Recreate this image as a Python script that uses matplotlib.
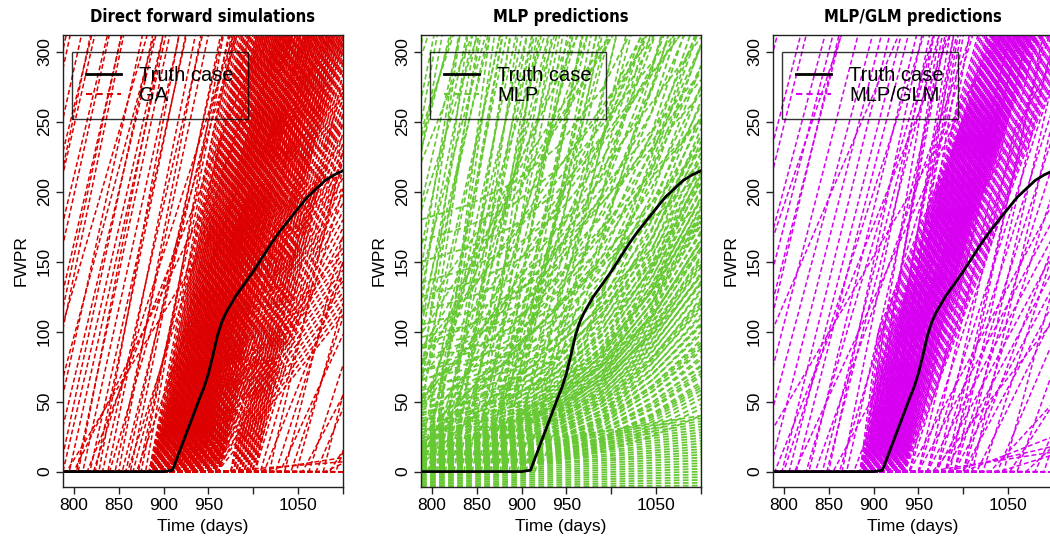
import matplotlib
matplotlib.use("Agg")
import matplotlib.pyplot as plt
from matplotlib.lines import Line2D

plt.rcParams['font.family'] = ['Liberation Sans', 'DejaVu Sans']

# truth case
truth_days = [788, 900, 910, 920, 930, 940, 945, 950, 955, 960, 965, 970, 980, 990,
              1000, 1010, 1020, 1030, 1040, 1050, 1060, 1070, 1080, 1090, 1100]
truth_fwpr = [0, 0, 1, 18, 35, 52, 60, 70, 83, 97, 107, 114, 125, 134,
              143, 153, 163, 172, 180, 188, 196, 202, 208, 212, 215]

# ---- GA: ramp curves (onset day, FWPR rise per day), zero before onset
p1_sparse = [(684, 2.9), (701, 2.9), (712, 2.8), (732, 2.9), (749, 3.0), (769, 2.9),
             (784, 3.0), (795, 2.9), (818, 2.9), (832, 2.8), (846, 3.0), (760, 2.4),
             (740, 2.2), (700, 2.6), (660, 3.0), (805, 3.3), (828, 3.5), (850, 3.4),
             (860, 2.0), (880, 3.6), (792, 1.05), (800, 1.3), (815, 1.6), (822, 2.0),
             (840, 2.2), (854, 2.6), (866, 2.4), (870, 1.8), (875, 3.2), (722, 2.7),
             (810, 2.9), (858, 2.9), (670, 2.8), (692, 3.0), (718, 3.1), (742, 2.8),
             (755, 3.1), (776, 2.7), (788, 2.8), (803, 3.0), (824, 3.1), (838, 3.2),
             (863, 3.1), (872, 2.9)]
p1_band_onsets = [884, 886, 888, 890, 892, 894, 896, 898, 900, 902, 904, 906, 908, 910,
                  912, 914, 916, 918, 920, 922, 924, 926, 928, 930, 932, 934, 936, 938,
                  940, 943, 946, 949, 952, 955, 958, 961]
p1_band_rates = [1.8, 2.2, 2.6, 3.0, 3.4]
p1_slow_onsets = [900, 905, 910, 915, 920, 925, 930, 935, 940, 945, 950, 955, 960]
p1_slow_rates = [0.8, 1.2]
p1_late_onsets = [975, 978, 981, 984, 987, 990, 993, 996, 999, 1002]
p1_late_rates = [2.2, 2.9, 3.6]
p1_tail = [(1008, 2.2), (1012, 1.6), (1018, 2.8), (1025, 2.0), (1030, 1.4), (1035, 2.6),
           (1042, 1.9), (1048, 2.3), (1055, 1.2), (1062, 2.0), (1070, 1.5), (1078, 2.5),
           (1085, 1.0), (1092, 1.8), (960, 0.05), (1000, 0.1), (1080, 0.3),
           (1100, 0), (1100, 0), (1100, 0)]

# ---- MLP/GLM
p3_sparse = [(668, 2.5), (694, 2.5), (705, 2.6), (716, 2.4), (739, 2.5), (746, 2.7),
             (758, 2.5), (769, 2.4), (784, 2.5), (798, 2.6), (814, 2.5), (828, 2.6),
             (843, 2.5), (790, 1.6), (800, 2.0), (812, 1.4), (825, 2.2), (835, 1.8),
             (848, 2.5), (855, 1.2), (862, 2.1), (870, 2.8), (878, 1.7), (720, 1.5),
             (760, 1.1), (700, 1.9), (850, 3.0), (865, 3.2), (730, 2.5), (806, 2.5),
             (885, 3.8), (890, 3.6), (895, 4.0), (900, 3.5), (905, 3.9), (910, 3.7),
             (915, 4.2), (920, 3.6), (888, 3.4), (898, 3.3), (908, 3.5), (918, 3.8)]
p3_band_onsets = [885, 887, 889, 891, 893, 895, 897, 899, 901, 903, 905, 907, 909, 911,
                  913, 915, 917, 919, 921, 923, 925, 927, 929, 931, 933, 935]
# (early rate over first 20 days, later rate)
p3_band_shapes = [(5.0, 1.6), (3.6, 1.9), (2.8, 2.3), (2.2, 2.2), (1.7, 1.7)]
p3_knee = 20
p3_mid_onsets = [940, 950, 960, 970, 980, 990, 1000]
p3_mid_rates = [1.2, 2.0, 2.8]
p3_tail = [(966, 0.8), (985, 3.0), (1005, 1.7), (1010, 2.8), (1015, 1.3), (1022, 2.0),
           (1030, 0.7), (1038, 1.5), (1045, 2.4), (1052, 1.0), (1060, 1.8), (1070, 0.6),
           (1080, 1.4), (1090, 2.0), (960, 0.1), (980, 0.15), (1000, 0.25), (1040, 0.2),
           (1100, 0), (1100, 0), (1100, 0)]

# ---- MLP: steep straight lines, gentle lines, convex curves (start, end), near-flat lines
p2_ramps = [(712, 4.0), (717, 3.5), (730, 2.4), (740, 1.4), (748, 3.2), (755, 2.9),
            (760, 1.6), (762, 4.5), (768, 3.6), (770, 2.0), (775, 4.8), (780, 1.2),
            (783, 3.1), (790, 3.0), (795, 2.2), (797, 3.8), (800, 1.8), (802, 5.0),
            (806, 3.3), (810, 2.6), (813, 4.2), (818, 3.0), (820, 2.2), (825, 4.4),
            (830, 1.5), (833, 3.6), (839, 3.4), (842, 2.7), (849, 4.6), (850, 1.7),
            (855, 3.1), (860, 2.3), (864, 3.0), (866, 3.9), (870, 2.6), (872, 2.8),
            (873, 2.5), (878, 3.5), (880, 2.0), (886, 2.6), (890, 3.2), (895, 2.1),
            (900, 1.9), (905, 2.8), (910, 1.6), (690, 3.4), (700, 2.6), (680, 2.2),
            (660, 1.9), (650, 1.6), (640, 2.0), (655, 2.4), (670, 2.8), (685, 3.0),
            (695, 2.0), (705, 3.2), (720, 2.8), (725, 3.6), (735, 3.0), (745, 2.6),
            (752, 4.0), (758, 3.4), (765, 2.8), (772, 3.0), (778, 4.2), (786, 2.6),
            (792, 3.6), (799, 4.4), (804, 2.9), (808, 3.9), (815, 3.2), (822, 3.7),
            (828, 2.8), (836, 4.0), (845, 3.2), (852, 3.8), (858, 2.7), (862, 3.5),
            (868, 3.1), (876, 2.9), (883, 3.3), (892, 2.4), (898, 2.9), (903, 2.3),
            (915, 2.2), (920, 1.8)]
p2_gentle = [(780, 0.6), (770, 0.7), (760, 0.65), (750, 0.8), (740, 0.7), (730, 0.9),
             (720, 0.75), (710, 0.85), (700, 0.9), (690, 1.0), (680, 0.8), (670, 0.95),
             (775, 0.55), (765, 0.75), (745, 0.6), (735, 0.85), (715, 0.7), (705, 1.05)]
p2_days = [788, 840, 890, 940, 990, 1045, 1100]
p2_shape = [0, 0.04, 0.10, 0.20, 0.36, 0.63, 1.0]
p2_curves = [(0, 45), (1, 52), (2, 58), (2, 64), (3, 70), (3, 76), (4, 82), (4, 88),
             (5, 94), (5, 100), (6, 106), (6, 112), (7, 118), (7, 124), (8, 130), (8, 136),
             (9, 142), (10, 148), (10, 154), (11, 160), (12, 166), (12, 172), (13, 178),
             (14, 184), (15, 190), (16, 196), (17, 202), (18, 208), (20, 214), (22, 220),
             (24, 228), (26, 236), (28, 245), (30, 255), (33, 265), (36, 275), (40, 290),
             (44, 305), (48, 320), (52, 335), (58, 350), (65, 370), (72, 390), (80, 410),
             (90, 430), (3, 60), (5, 72), (7, 90), (9, 105), (11, 120), (13, 135),
             (15, 150), (17, 165), (19, 180), (21, 195), (24, 140), (28, 160), (32, 185),
             (36, 210), (42, 240),
             (0, 40), (1, 48), (2, 55), (3, 62), (4, 68), (5, 75), (6, 80), (7, 86),
             (8, 92), (9, 98), (10, 104), (11, 110), (12, 116), (13, 122), (14, 128),
             (15, 134), (16, 140), (17, 146), (18, 152), (19, 158), (20, 164), (22, 170),
             (24, 176), (26, 182), (28, 188), (30, 194), (34, 200), (38, 206), (42, 212),
             (46, 218), (50, 224), (55, 232), (60, 240), (66, 250), (72, 262), (80, 275),
             (88, 290), (96, 305), (105, 320), (115, 340), (125, 360), (135, 380),
             (150, 400), (165, 420), (180, 440)]
p2_flat = [(-12, -12), (-11, -10), (-10, -8), (-9, -6), (-8, -4), (-7, -2), (-6, 0), (-5, 2),
           (-4, 4), (-3, 6), (-2, 8), (-1, 10), (0, 12), (0, 14), (1, 16), (1, 18), (2, 20),
           (2, 22), (3, 24), (3, 26), (4, 28), (4, 30), (5, 32), (5, 34), (6, 36), (7, 38),
           (8, 40)]

titles = ['Direct forward simulations', 'MLP predictions', 'MLP/GLM predictions']
labels = ['GA', 'MLP', 'MLP/GLM']
colors = ['#dd0000', '#66c833', '#d800f0']
xticks = [800, 850, 900, 950, 1000, 1050, 1100]
xticklabels = ['800', '850', '900', '950', '', '1050', '']
yticks = [0, 50, 100, 150, 200, 250, 300]

DASH = (0, (3.2, 1.8))
X0, X1 = 788, 1100


def draw_ramps(ax, ramps, color, lw=1.1, flat=True):
    for onset, rate in ramps:
        if onset < X0 or not flat:
            xs, ys = [onset, X1], [0, rate * (X1 - onset)]
        else:
            xs, ys = [X0, onset, X1], [0, 0, rate * (X1 - onset)]
        ax.plot(xs, ys, color=color, lw=lw, ls=DASH)


def pairs(onsets, rates):
    return [(o, r) for o in onsets for r in rates]


fig = plt.figure(figsize=(10.5, 5.48), dpi=100)
lefts = [63, 421, 773]
axes = [fig.add_axes([l / 1050, 1 - 487 / 548, 280 / 1050, 452 / 548]) for l in lefts]

# GA panel
draw_ramps(axes[0], p1_sparse, colors[0])
draw_ramps(axes[0], pairs(p1_band_onsets, p1_band_rates), colors[0])
draw_ramps(axes[0], pairs(p1_slow_onsets, p1_slow_rates), colors[0])
draw_ramps(axes[0], pairs(p1_late_onsets, p1_late_rates), colors[0])
draw_ramps(axes[0], p1_tail, colors[0])

# MLP panel
for a, b in p2_flat:
    axes[1].plot([X0, X1], [a, b], color=colors[1], lw=1.3, ls=DASH)
for a, b in p2_curves:
    axes[1].plot(p2_days, [a + (b - a) * s for s in p2_shape], color=colors[1], lw=1.3, ls=DASH)
draw_ramps(axes[1], p2_gentle, colors[1], lw=1.2)
draw_ramps(axes[1], p2_ramps, colors[1], lw=1.2, flat=False)

# MLP/GLM panel
draw_ramps(axes[2], p3_sparse, colors[2])
for onset in p3_band_onsets:
    for r1, r2 in p3_band_shapes:
        knee_y = r1 * p3_knee
        xs = [X0, onset, onset + p3_knee, X1]
        ys = [0, 0, knee_y, knee_y + r2 * (X1 - onset - p3_knee)]
        axes[2].plot(xs, ys, color=colors[2], lw=1.1, ls=DASH)
draw_ramps(axes[2], pairs(p3_mid_onsets, p3_mid_rates), colors[2])
draw_ramps(axes[2], p3_tail, colors[2])

for i, ax in enumerate(axes):
    ax.plot(truth_days, truth_fwpr, color='black', lw=2)
    ax.set_xlim(X0, X1)
    ax.set_ylim(-11, 312)
    ax.set_xticks(xticks)
    ax.set_xticklabels(xticklabels, fontsize=12.5)
    ax.set_yticks(yticks)
    ax.set_yticklabels([str(v) for v in yticks], fontsize=12.5, rotation=90, va='center')
    ax.tick_params(length=5, width=1, pad=3, colors='#222222', labelcolor='black')
    for s in ax.spines.values():
        s.set_linewidth(1)
        s.set_color('#222222')
    ax.set_xlabel('Time (days)', fontsize=12.5, labelpad=4)
    ax.set_ylabel('FWPR', fontsize=12.5, labelpad=6)
    ax.set_title(titles[i], fontsize=12, fontweight='bold', fontstretch='condensed',
                 family=['DejaVu Sans'], pad=9)
    handles = [Line2D([], [], color='black', lw=2),
               Line2D([], [], color=colors[i], lw=1.5, ls=(0, (3, 2)))]
    leg = ax.legend(handles, ['Truth case', labels[i]], loc='upper left',
                    bbox_to_anchor=(0.032, 0.962), borderaxespad=0, fancybox=False,
                    fontsize=14.5, handlelength=1.75, handletextpad=0.9,
                    borderpad=0.7, labelspacing=0.05)
    leg.get_frame().set_facecolor('none')
    leg.get_frame().set_edgecolor('black')
    leg.get_frame().set_linewidth(1)

fig.savefig('out.png', dpi=100)
